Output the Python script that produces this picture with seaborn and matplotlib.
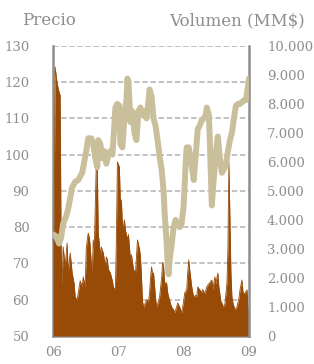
import matplotlib
matplotlib.use("Agg")
import matplotlib.pyplot as plt
import pandas as pd
import seaborn as sns

# Precio (eje izquierdo): posición en años decimales y valor
precio_t = [2006.000, 2006.046, 2006.092, 2006.123, 2006.154, 2006.200, 2006.231, 2006.262,
            2006.292, 2006.338, 2006.385, 2006.415, 2006.446, 2006.477, 2006.508, 2006.538,
            2006.585, 2006.615, 2006.646, 2006.677, 2006.692, 2006.723, 2006.754, 2006.785,
            2006.815, 2006.846, 2006.877, 2006.908, 2006.938, 2006.954, 2006.985, 2007.015,
            2007.031, 2007.062, 2007.092, 2007.123, 2007.138, 2007.154, 2007.185, 2007.215,
            2007.246, 2007.277, 2007.308, 2007.338, 2007.369, 2007.400, 2007.431, 2007.462,
            2007.477, 2007.508, 2007.538, 2007.569, 2007.600, 2007.631, 2007.662, 2007.692,
            2007.708, 2007.738, 2007.754, 2007.769, 2007.785, 2007.815, 2007.846, 2007.877,
            2007.908, 2007.938, 2007.969, 2008.000, 2008.031, 2008.046, 2008.077, 2008.108,
            2008.138, 2008.154, 2008.185, 2008.215, 2008.246, 2008.277, 2008.308, 2008.338,
            2008.354, 2008.385, 2008.400, 2008.415, 2008.431, 2008.446, 2008.477, 2008.508,
            2008.523, 2008.554, 2008.585, 2008.615, 2008.646, 2008.677, 2008.708, 2008.738,
            2008.769, 2008.800, 2008.831, 2008.862, 2008.892, 2008.923, 2008.954, 2008.985,
            2009.000]
precio = [78, 77.5, 75.5, 77, 81, 83, 85, 88,
          91, 92.5, 93, 94, 95, 98, 101, 104.5,
          104.5, 103, 99, 96.5, 104, 103, 99, 101,
          97.5, 100, 101, 100, 108, 113, 114, 113.5,
          103, 102, 110, 115, 121, 120, 109, 112,
          106, 104, 112, 113, 111, 112, 110, 115,
          118, 116, 110, 108, 104, 99.5, 96, 90,
          84, 76, 70, 67, 71, 75, 80, 82,
          81, 80, 81, 86, 98, 102, 102, 99,
          95, 93, 100, 107, 108, 109.5, 110, 111,
          113, 111, 104, 95, 86, 90, 97, 103,
          105, 99, 95, 96, 97, 101, 104, 106,
          110, 113.5, 114, 114, 114.5, 115, 115, 119,
          121]

# Volumen (eje derecho, MM$)
vol_t = [2006.000, 2006.015, 2006.031, 2006.062, 2006.092, 2006.108, 2006.123, 2006.138, 2006.154, 2006.185,
         2006.215, 2006.231, 2006.262, 2006.292, 2006.323, 2006.338, 2006.369, 2006.385, 2006.415, 2006.446,
         2006.462, 2006.492, 2006.508, 2006.523, 2006.538, 2006.554, 2006.569, 2006.585, 2006.600, 2006.615,
         2006.631, 2006.662, 2006.677, 2006.692, 2006.708, 2006.723, 2006.738, 2006.769, 2006.800, 2006.815,
         2006.831, 2006.846, 2006.877, 2006.908, 2006.923, 2006.954, 2006.969, 2006.985, 2007.000, 2007.015,
         2007.031, 2007.046, 2007.062, 2007.077, 2007.092, 2007.108, 2007.138, 2007.154, 2007.185, 2007.200,
         2007.231, 2007.262, 2007.292, 2007.323, 2007.338, 2007.354, 2007.369, 2007.385, 2007.415, 2007.431,
         2007.462, 2007.477, 2007.492, 2007.508, 2007.523, 2007.538, 2007.569, 2007.585, 2007.615, 2007.631,
         2007.662, 2007.677, 2007.692, 2007.708, 2007.738, 2007.754, 2007.769, 2007.800, 2007.815, 2007.846,
         2007.862, 2007.892, 2007.908, 2007.938, 2007.969, 2008.000, 2008.015, 2008.046, 2008.062, 2008.077,
         2008.092, 2008.123, 2008.138, 2008.154, 2008.185, 2008.200, 2008.215, 2008.246, 2008.277, 2008.292,
         2008.323, 2008.354, 2008.385, 2008.431, 2008.446, 2008.477, 2008.492, 2008.523, 2008.538, 2008.569,
         2008.585, 2008.600, 2008.631, 2008.662, 2008.677, 2008.692, 2008.708, 2008.723, 2008.738, 2008.754,
         2008.785, 2008.815, 2008.846, 2008.862, 2008.892, 2008.908, 2008.938, 2008.969, 2008.985, 2009.000]
volumen = [3300, 3300, 9275, 8700, 8400, 8300, 3070, 1690, 3070, 2380,
           3200, 2170, 2860, 2170, 1800, 1345, 1240, 1480, 1900, 1690,
           2035, 1690, 3000, 3310, 3550, 3400, 3070, 2500, 2170, 3310,
           3000, 6000, 5800, 3500, 3200, 2720, 3070, 2860, 2380, 2720,
           2640, 2300, 2170, 1900, 1690, 1590, 3310, 6000, 5900, 5830,
           4500, 4690, 3800, 3760, 4000, 3660, 3310, 3500, 2600, 2800,
           2300, 2170, 3310, 3000, 2720, 2000, 1200, 1000, 1150, 1240,
           1200, 1480, 2000, 2380, 2100, 2170, 1300, 1000, 1200, 1345,
           2000, 2520, 2400, 1830, 1830, 1500, 1345, 1100, 1000, 900,
           800, 1000, 1140, 1000, 800, 1200, 1480, 1590, 2200, 2620,
           2280, 1700, 1500, 1345, 1400, 1345, 1690, 1590, 1500, 1600,
           1450, 1700, 1800, 1930, 1600, 2035, 1800, 2170, 1700, 1200,
           1140, 1000, 1100, 1830, 3000, 6000, 4000, 2170, 1345, 1140,
           900, 1000, 1300, 1590, 1930, 1500, 1460, 1590, 900, 800]

anios = [2006, 2007, 2008, 2009]
anios_lbl = ["06", "07", "08", "09"]

df_precio = pd.DataFrame({"t": precio_t, "precio": precio})
df_vol = pd.DataFrame({"t": vol_t, "volumen": volumen})

sns.set_style("white")
plt.rcParams["font.family"] = ["DejaVu Serif"]

gris = "#8e8e8e"
caqui = "#c9c09b"
marron = "#984a07"

fig = plt.figure(figsize=(3.14, 3.64), dpi=100)

# eje base: rejilla y etiquetas del precio
ax = fig.add_axes([0.169, 0.077, 0.624, 0.797])
ax.set_ylim(50, 130)
ax.set_yticks(range(50, 131, 10))
ax.set_xlim(2006, 2009)
ax.set_xticks(anios)
ax.set_xticklabels(anios_lbl)
ax.yaxis.grid(True, color="#bdbdbd", linestyle=(0, (3, 1.5)), linewidth=1.3)
ax.set_axisbelow(True)

# volumen (área marrón) sobre la rejilla
ax2 = ax.twinx()
ax2.fill_between(df_vol["t"], 0, df_vol["volumen"], color=marron, linewidth=0)
sns.lineplot(data=df_vol, x="t", y="volumen", ax=ax2, color=marron, linewidth=0.6)
ax2.set_ylim(0, 10000)
ax2.set_yticks(range(0, 10001, 1000))
ax2.set_yticklabels([f"{v:,}".replace(",", ".") for v in range(0, 10001, 1000)])
ax2.set_xlim(2006, 2009)
ax2.set_ylabel("")

# precio (línea gruesa) encima de todo
ax3 = ax.twinx()
sns.lineplot(data=df_precio, x="t", y="precio", ax=ax3, color=caqui, linewidth=4.3)
ax3.set_ylim(50, 130)
ax3.set_xlim(2006, 2009)
ax3.set_yticks([])
ax3.set_ylabel("")
ax3.set_xlabel("")
for s in ax3.spines.values():
    s.set_visible(False)

for a in (ax, ax2):
    for s in a.spines.values():
        s.set_visible(False)
    a.tick_params(axis="y", length=0, labelsize=9.5, colors=gris)
ax.tick_params(axis="y", pad=17)
ax2.tick_params(axis="y", pad=13)
ax.tick_params(axis="x", length=3, width=1.5, colors=gris, labelsize=9.5, pad=4)

ax.spines["left"].set_visible(True)
ax.spines["bottom"].set_visible(True)
ax2.spines["right"].set_visible(True)
for s in (ax.spines["left"], ax.spines["bottom"], ax2.spines["right"]):
    s.set_color(gris)
    s.set_linewidth(1.8)

fig.text(0.07, 0.943, "Precio", color=gris, fontsize=12, ha="left", va="center")
fig.text(0.972, 0.943, "Volumen (MM$)", color=gris, fontsize=12, ha="right", va="center")

fig.savefig("out.png", dpi=100)
